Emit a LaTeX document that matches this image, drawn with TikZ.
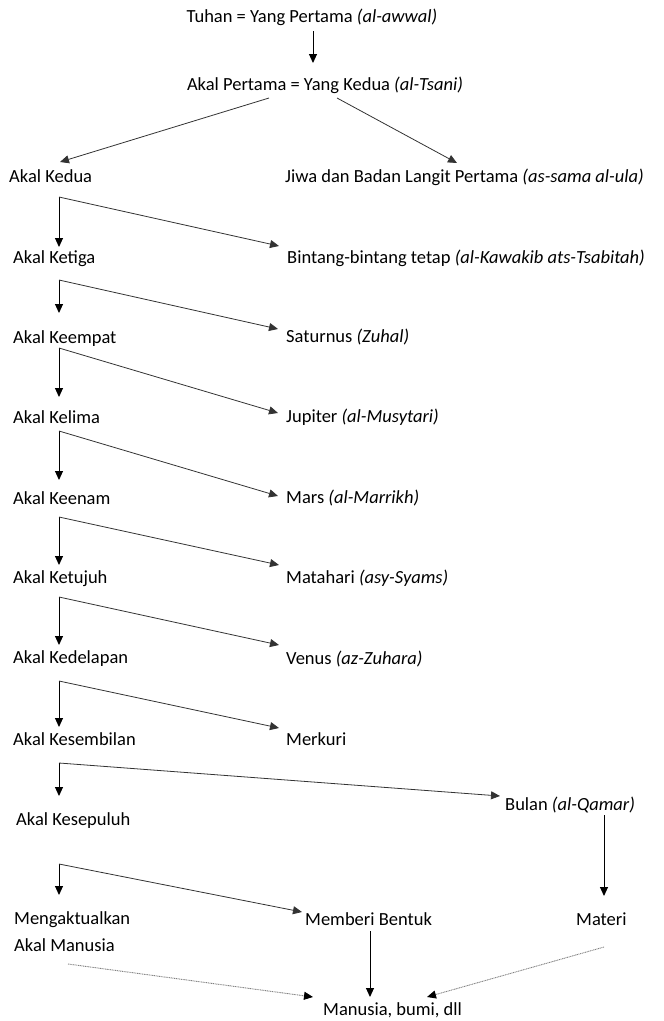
\documentclass[tikz,border=0pt]{standalone}
\usepackage{fontspec}
\setmainfont{Carlito}
\usetikzlibrary{arrows.meta,positioning}

\begin{document}
\begin{tikzpicture}[x=1pt, y=-1pt,
  lbl/.style={anchor=west, inner sep=0pt, font=\fontsize{18.5}{21}\selectfont, text height=13pt, text depth=4pt},
  arr/.style={-{Triangle[length=9pt,width=8pt]}, line width=1pt},
  diag/.style={arr, draw=black!80, line width=0.8pt},
  dots/.style={-{Triangle[length=9pt,width=8pt,color=black]}, dash pattern=on 1pt off 0.7pt, draw=black!50, line width=0.9pt}]
  \useasboundingbox (0,0) rectangle (664,1021);

  % Top
  \node[lbl, anchor=center] (tuhan) at (312,18) {Tuhan = Yang Pertama \textit{(al-awwal)}};
  \node[lbl, anchor=center] (pertama) at (325,86) {Akal Pertama = Yang Kedua \textit{(al-Tsani)}};
  \coordinate (t1) at (313,31);
  \coordinate (t2) at (313,63);
  \draw[arr] (t1) -- (t2);
  \coordinate (p1) at (269,98);
  \coordinate (p2) at (337,98);
  \coordinate (p3) at (60,162);
  \coordinate (p4) at (457,163);
  \draw[diag] (p1) -- (p3);
  \draw[diag] (p2) -- (p4);

  % Left column: akal
  \node[lbl] (kedua) at (9,178) {Akal Kedua};
  \node[lbl] (ketiga) at (13,259) {Akal Ketiga};
  \node[lbl] (keempat) at (13,339) {Akal Keempat};
  \node[lbl] (kelima) at (13,419) {Akal Kelima};
  \node[lbl] (keenam) at (13,500) {Akal Keenam};
  \node[lbl] (ketujuh) at (13,579) {Akal Ketujuh};
  \node[lbl] (kedelapan) at (13,659) {Akal Kedelapan};
  \node[lbl] (kesembilan) at (13,741) {Akal Kesembilan};
  \node[lbl] (kesepuluh) at (16,821) {Akal Kesepuluh};
  \node[lbl] (aktual) at (14,920) {Mengaktualkan};
  \node[lbl] (akalmanusia) at (14,947) {Akal Manusia};

  % Right column: langit
  \node[lbl] (jiwa) at (285,178) {Jiwa dan Badan Langit Pertama \textit{(as-sama al-ula)}};
  \node[lbl] (bintang) at (287,259) {Bintang-bintang tetap \textit{(al-Kawakib ats-Tsabitah)}};
  \node[lbl] (saturnus) at (286,338) {Saturnus \textit{(Zuhal)}};
  \node[lbl] (jupiter) at (286,418) {Jupiter \textit{(al-Musytari)}};
  \node[lbl] (mars) at (286,499) {Mars \textit{(al-Marrikh)}};
  \node[lbl] (matahari) at (286,579) {Matahari \textit{(asy-Syams)}};
  \node[lbl] (venus) at (286,660) {Venus \textit{(az-Zuhara)}};
  \node[lbl] (merkuri) at (286,741) {Merkuri};
  \node[lbl] (bulan) at (505,806) {Bulan \textit{(al-Qamar)}};

  % Bottom
  \node[lbl] (bentuk) at (305,921) {Memberi Bentuk};
  \node[lbl] (materi) at (576,921) {Materi};
  \node[lbl] (manusia) at (323,1011) {Manusia, bumi, dll};

  % Corners and arrow ends
  \coordinate (c2) at (59,197);  \coordinate (d2) at (59,247);  \coordinate (r2) at (279,246);
  \coordinate (c3) at (59,280);  \coordinate (d3) at (59,313);  \coordinate (r3) at (278,329);
  \coordinate (c4) at (59,348);  \coordinate (d4) at (59,397);  \coordinate (r4) at (278,413);
  \coordinate (c5) at (59,431);  \coordinate (d5) at (59,480);  \coordinate (r5) at (278,496);
  \coordinate (c6) at (59,517);  \coordinate (d6) at (59,565);  \coordinate (r6) at (279,565);
  \coordinate (c7) at (59,597);  \coordinate (d7) at (59,645);  \coordinate (r7) at (279,645);
  \coordinate (c8) at (59,681);  \coordinate (d8) at (59,727);  \coordinate (r8) at (279,728);
  \coordinate (c9) at (59,763);  \coordinate (d9) at (59,796);  \coordinate (r9) at (500,796);
  \coordinate (c10) at (59,864); \coordinate (d10) at (59,895); \coordinate (r10) at (302,912);

  \draw[arr] (c2) -- (d2);   \draw[diag] (c2) -- (r2);
  \draw[arr] (c3) -- (d3);   \draw[diag] (c3) -- (r3);
  \draw[arr] (c4) -- (d4);   \draw[diag] (c4) -- (r4);
  \draw[arr] (c5) -- (d5);   \draw[diag] (c5) -- (r5);
  \draw[arr] (c6) -- (d6);   \draw[diag] (c6) -- (r6);
  \draw[arr] (c7) -- (d7);   \draw[diag] (c7) -- (r7);
  \draw[arr] (c8) -- (d8);   \draw[diag] (c8) -- (r8);
  \draw[arr] (c9) -- (d9);   \draw[diag] (c9) -- (r9);
  \draw[arr] (c10) -- (d10); \draw[diag] (c10) -- (r10);

  % Into Manusia
  \coordinate (b1) at (604,815);  \coordinate (b2) at (604,896);
  \draw[arr] (b1) -- (b2);
  \coordinate (m1) at (370,931);  \coordinate (m2) at (370,997);
  \draw[arr] (m1) -- (m2);
  \coordinate (a1) at (68,964);   \coordinate (a2) at (313,997);
  \draw[dots] (a1) -- (a2);
  \coordinate (s1) at (604,947);  \coordinate (s2) at (427,997);
  \draw[dots] (s1) -- (s2);
\end{tikzpicture}
\end{document}
